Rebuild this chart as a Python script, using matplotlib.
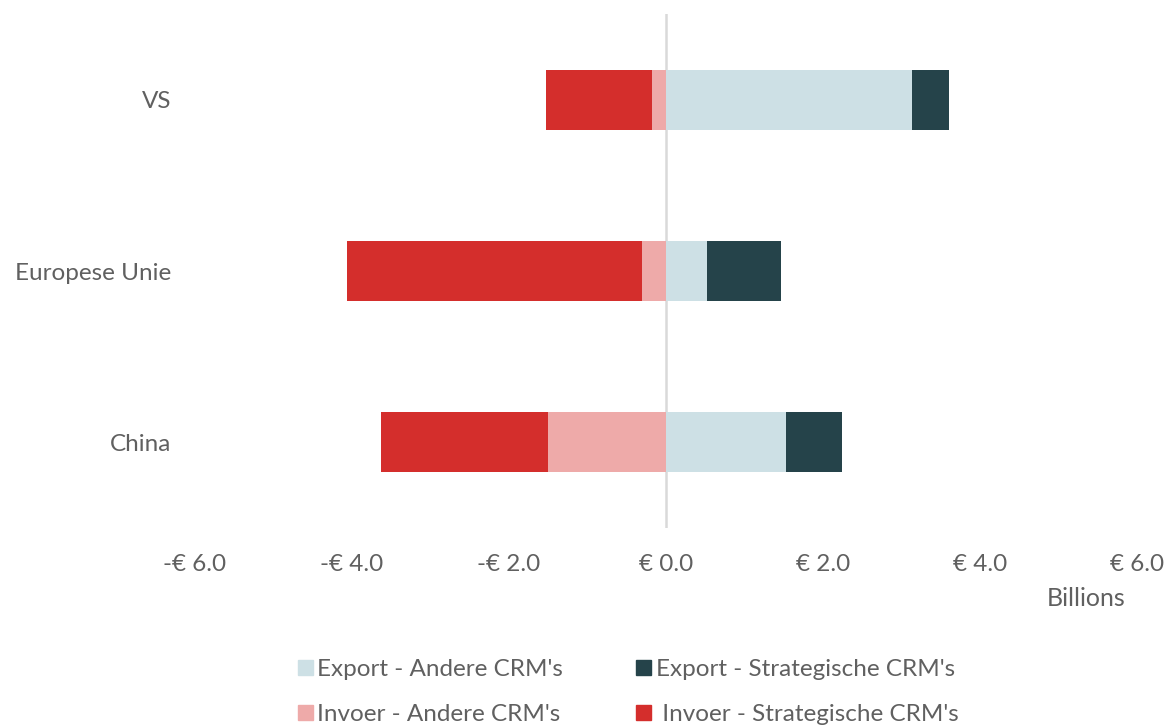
import matplotlib
matplotlib.use("Agg")
import matplotlib.pyplot as plt
from matplotlib.ticker import FuncFormatter, FixedLocator
from matplotlib.patches import Patch

plt.rcParams['font.family'] = ['Lato', 'DejaVu Sans']

categories = ["China", "Europese Unie", "VS"]
export_andere = [1.53, 0.52, 3.13]
export_strategisch = [0.71, 0.94, 0.48]
invoer_andere = [-1.50, -0.31, -0.18]
invoer_strategisch = [-2.13, -3.75, -1.35]
xticks = [-6, -4, -2, 0, 2, 4, 6]

c_exp_a = "#cde0e5"
c_exp_s = "#25434a"
c_inv_a = "#eeaaa9"
c_inv_s = "#d42e2c"
txt = "#606060"
fs = 17.5

fig = plt.figure(figsize=(11.69, 7.26), dpi=100)
ax = fig.add_axes([0.1668, 0.2727, 0.8058, 0.708])

y = list(range(len(categories)))
h = 0.35
ax.barh(y, export_andere, height=h, color=c_exp_a, zorder=2)
ax.barh(y, export_strategisch, left=export_andere, height=h, color=c_exp_s, zorder=2)
ax.barh(y, invoer_andere, height=h, color=c_inv_a, zorder=2)
ax.barh(y, invoer_strategisch, left=invoer_andere, height=h, color=c_inv_s, zorder=2)

ax.axvline(0, color="#d9d9d9", lw=1.8, zorder=1)
ax.set_xlim(-6, 6)
ax.set_ylim(-0.5, 2.5)
ax.xaxis.set_major_locator(FixedLocator(xticks))

def fmt(v, pos):
    return ("-€ %.1f" % abs(v)) if v < 0 else ("€ %.1f" % v)

ax.xaxis.set_major_formatter(FuncFormatter(fmt))
ax.set_yticks(y)
ax.set_yticklabels(categories)
ax.tick_params(axis='both', length=0, labelsize=fs, colors=txt)
ax.tick_params(axis='x', pad=19)
ax.tick_params(axis='y', pad=17)
for s in ax.spines.values():
    s.set_visible(False)

fig.text(1086 / 1169, 1 - 599 / 726, "Billions", ha="center", va="center",
         fontsize=18, color=txt)

handles = [Patch(color=c_exp_a), Patch(color=c_inv_a),
           Patch(color=c_exp_s), Patch(color=c_inv_s)]
labels = ["Export - Andere CRM's", "Invoer - Andere CRM's",
          "Export - Strategische CRM's", " Invoer - Strategische CRM's"]
leg = fig.legend(handles, labels, ncol=2, loc="upper left",
                 bbox_to_anchor=(298 / 1169, 1 - 659 / 726), frameon=False,
                 fontsize=fs, handlelength=0.6, handleheight=0.6,
                 handletextpad=0.2, columnspacing=3.0, labelspacing=1.0,
                 borderpad=0, borderaxespad=0)
for t in leg.get_texts():
    t.set_color(txt)

fig.savefig("out.png", dpi=100)
